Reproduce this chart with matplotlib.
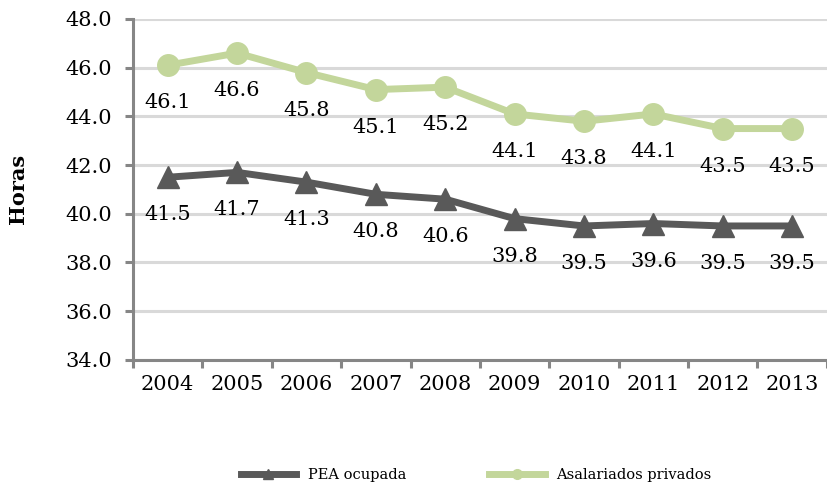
import matplotlib
matplotlib.use('Agg')
import matplotlib.pyplot as plt
from matplotlib.ticker import FormatStrFormatter

YEARS = ['2004', '2005', '2006', '2007', '2008', '2009', '2010', '2011', '2012', '2013']
PEA_OCUPADA = [41.5, 41.7, 41.3, 40.8, 40.6, 39.8, 39.5, 39.6, 39.5, 39.5]
ASALARIADOS = [46.1, 46.6, 45.8, 45.1, 45.2, 44.1, 43.8, 44.1, 43.5, 43.5]

DARK = '#595959'
GREEN = '#c3d69b'
AXIS = '#868686'
GRID = '#d9d9d9'

plt.rcParams['font.family'] = ['DejaVu Serif']

fig = plt.figure(figsize=(8.28, 4.93), dpi=100)
ax = fig.add_axes([0.1606, 0.270, 0.838, 0.6915])

x = list(range(len(YEARS)))
ax.plot(x, PEA_OCUPADA, color=DARK, lw=5, marker='^', ms=16,
        label='PEA ocupada', zorder=3)
ax.plot(x, ASALARIADOS, color=GREEN, lw=5, marker='o', ms=15.5,
        label='Asalariados privados', zorder=3)

# data labels below each point
for vals in (PEA_OCUPADA, ASALARIADOS):
    for xi, v in zip(x, vals):
        ax.annotate(f'{v:.1f}', (xi, v), xytext=(0, -27),
                    textcoords='offset points', ha='center', va='center',
                    fontsize=15, color='black', zorder=4)

ax.set_xlim(-0.5, len(YEARS) - 0.5)
ax.set_ylim(34, 48)
ax.set_yticks([34, 36, 38, 40, 42, 44, 46, 48])
ax.yaxis.set_major_formatter(FormatStrFormatter('%.1f'))
ax.set_xticks(x)
ax.set_xticklabels(YEARS)
ax.set_xticks([i - 0.5 for i in range(len(YEARS) + 1)], minor=True)

ax.grid(axis='y', color=GRID, lw=2.2, zorder=0)
ax.set_axisbelow(True)
for s in ['top', 'right']:
    ax.spines[s].set_visible(False)
for s in ['left', 'bottom']:
    ax.spines[s].set_color(AXIS)
    ax.spines[s].set_linewidth(2.2)

ax.tick_params(axis='y', length=6, width=2.2, color=AXIS, labelsize=15, pad=9)
ax.tick_params(axis='x', which='major', length=0, labelsize=15, pad=11)
ax.tick_params(axis='x', which='minor', length=6, width=2.2, color=AXIS)

ax.set_ylabel('Horas', fontsize=15, fontweight='bold', labelpad=27)

fig.legend(loc='lower center', bbox_to_anchor=(0.575, -0.005), ncol=2,
           frameon=False, fontsize=10.5, handlelength=3.8,
           columnspacing=5.7, markerscale=0.45)

fig.savefig('out.png', dpi=100)
